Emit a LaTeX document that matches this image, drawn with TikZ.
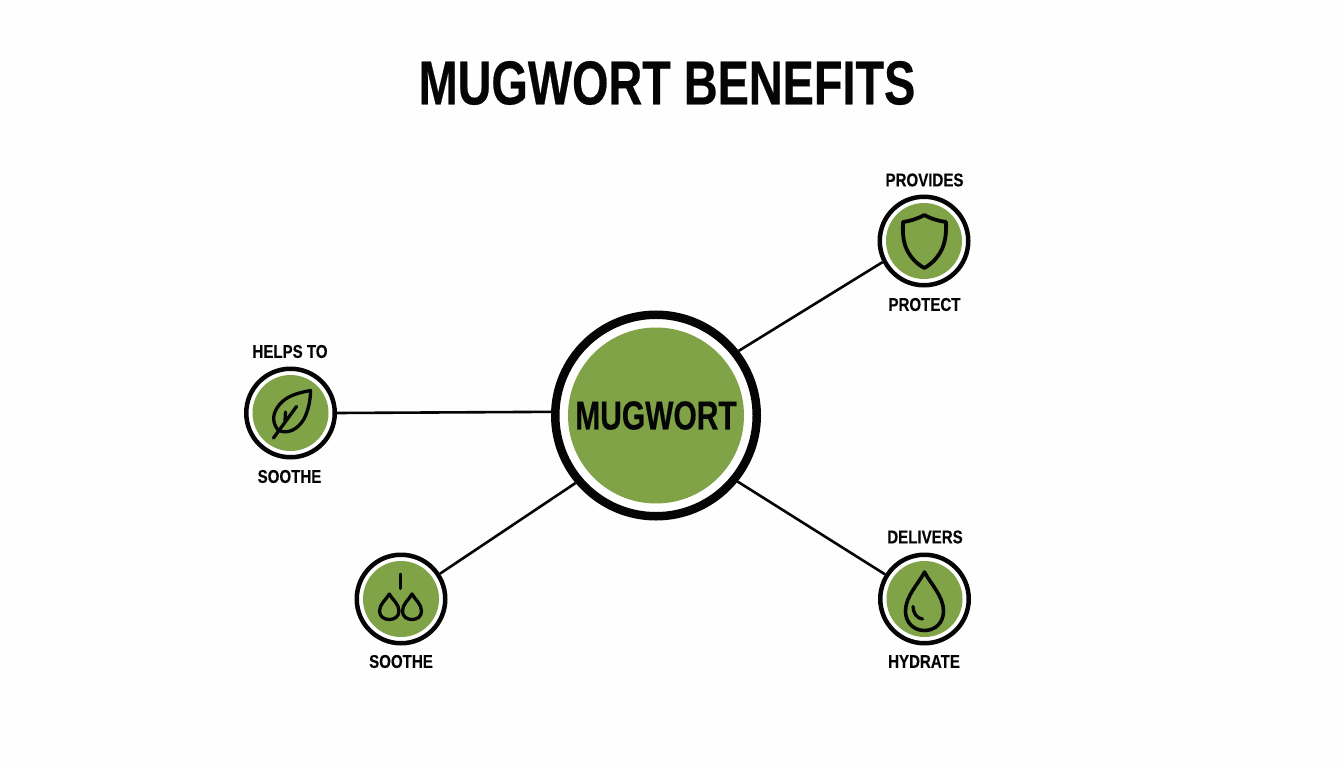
\documentclass[tikz,border=0pt]{standalone}
\usepackage{fontspec}
\setmainfont{Liberation Sans}
\newfontfamily\titlefont[FakeStretch=0.755,FakeBold=0.4]{Liberation Sans Bold}
\newfontfamily\hubfont[FakeStretch=0.74,FakeBold=0.4]{Liberation Sans Bold}
\newfontfamily\labelfont[FakeStretch=0.815,FakeBold=0.2]{Liberation Sans Bold}
\definecolor{leafgreen}{HTML}{7FA346}
\definecolor{paper}{HTML}{FDFEFD}
\definecolor{ink}{HTML}{050505}
\tikzset{
  x=1pt,y=-1pt,
  hubring/.style={circle,draw=ink,fill=white,line width=8.5pt,minimum size=201.5pt,inner sep=0pt},
  hubfill/.style={circle,fill=leafgreen,minimum size=176pt,inner sep=0pt,text=ink,font=\hubfont\fontsize{40.5}{42}\selectfont},
  petalring/.style={circle,draw=ink,fill=white,line width=4.5pt,minimum size=88.5pt,inner sep=0pt},
  petalfill/.style={circle,fill=leafgreen,minimum size=76pt,inner sep=0pt},
  caption/.style={text=ink,inner sep=0pt,font=\labelfont\fontsize{18.5}{20}\selectfont},
  heading/.style={text=ink,inner sep=0pt,font=\titlefont\fontsize{62}{66}\selectfont},
  spoke/.style={draw=ink,line width=2.6pt},
  glyph/.style={draw=ink,line width=3.3pt,line cap=round,line join=round},
}
\begin{document}
\begin{tikzpicture}
\useasboundingbox (0,0) rectangle (1344,768);
\fill[paper] (0,0) rectangle (1344,768);
\node[heading] (title) at (667,83) {MUGWORT BENEFITS};

\node[hubring] (hub) at (656,415.5) {};
\node[petalring] (calm) at (290.5,413) {};
\node[petalring] (drip) at (401,599) {};
\node[petalring] (guard) at (924,241) {};
\node[petalring] (water) at (924.5,599) {};

\draw[spoke] (hub.178.6) -- (calm.0);
\draw[spoke] (hub.220) -- (drip.33);
\draw[spoke] (hub.38) -- (guard.207);
\draw[spoke] (hub.-39) -- (water.148);

\node[hubfill] (hubcore) at (hub.center) {\raisebox{-1.5pt}{MUGWORT}};
\node[petalfill] (calmcore) at (calm.center) {};
\node[petalfill] (dripcore) at (drip.center) {};
\node[petalfill] (guardcore) at (guard.center) {};
\node[petalfill] (watercore) at (water.center) {};

\node[caption] (t1) at (290,351.5) {HELPS TO};
\node[caption] (t2) at (289.5,476.5) {SOOTHE};
\node[caption] (t3) at (401,661.5) {SOOTHE};
\node[caption] (t4) at (924.5,180) {PROVIDES};
\node[caption] (t5) at (924.5,304.5) {PROTECT};
\node[caption] (t6) at (925,537) {DELIVERS};
\node[caption] (t7) at (924,661.5) {HYDRATE};

% leaf
\draw[glyph] (310.5,390.5) .. controls (297,393) and (287,396) .. (280,404)
  .. controls (273,412) and (271,421) .. (278,430)
  .. controls (288,435) and (298,429) .. (304,419)
  .. controls (308,411) and (310.5,401) .. (310.5,390.5) -- cycle;
\draw[glyph] (273.5,438) -- (296.5,406.5);
\draw[glyph] (285,421) -- (285.5,412);

% drops
\draw[glyph,line width=3pt] (400,574) -- (400,588.5);
\draw[glyph] (389.3,594) .. controls (386,600) and (379.5,604) .. (379.5,611)
  .. controls (379.5,616.5) and (384,619.5) .. (389.3,619.5)
  .. controls (394.6,619.5) and (399,616.5) .. (399,611)
  .. controls (399,604) and (392.6,600) .. (389.3,594) -- cycle;
\draw[glyph] (412,594) .. controls (408.7,600) and (402.5,604) .. (402.5,611)
  .. controls (402.5,616.5) and (406.7,619.5) .. (412,619.5)
  .. controls (417.3,619.5) and (421.5,616.5) .. (421.5,611)
  .. controls (421.5,604) and (415.3,600) .. (412,594) -- cycle;

% shield
\draw[glyph,line width=3.8pt] (924.3,215) .. controls (917,219) and (910,221) .. (903,222)
  .. controls (902.5,232) and (903,242) .. (907,250)
  .. controls (911,258) and (917,264) .. (924.3,268)
  .. controls (931.5,264) and (937.5,258) .. (941.5,250)
  .. controls (945.5,242) and (946.5,232) .. (946,222)
  .. controls (939,221) and (931.5,219) .. (924.3,215) -- cycle;

% big drop
\draw[glyph,line width=3.6pt] (924.5,572) .. controls (919,583) and (905.5,596) .. (905.5,611)
  .. controls (905.5,623) and (914,630.5) .. (924.5,630.5)
  .. controls (935,630.5) and (943.5,623) .. (943.5,611)
  .. controls (943.5,596) and (930,583) .. (924.5,572) -- cycle;
\draw[glyph] (913,606.5) .. controls (913,613) and (917,618.5) .. (922.5,619);
\end{tikzpicture}
\end{document}
